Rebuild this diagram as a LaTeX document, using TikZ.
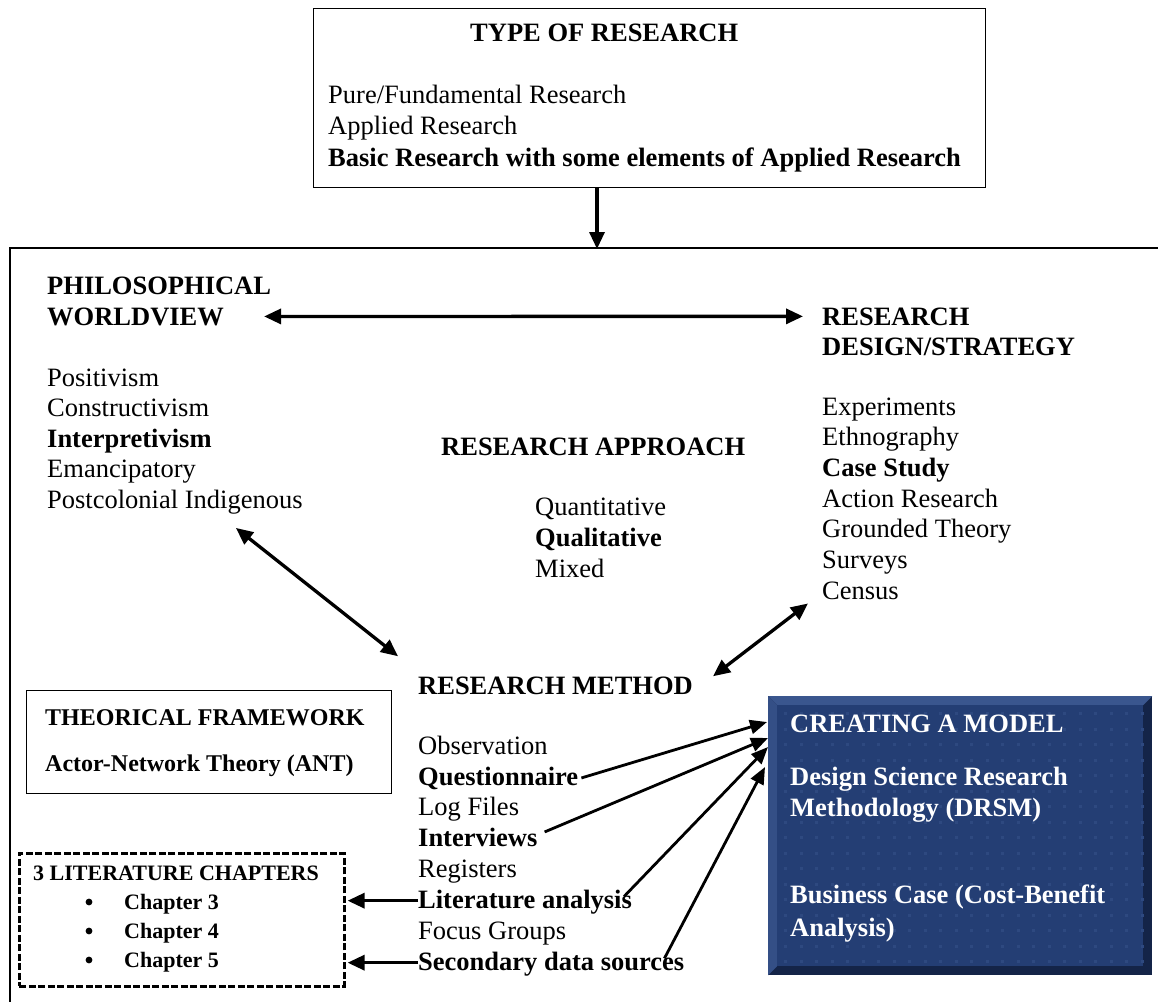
\documentclass[tikz,border=0pt]{standalone}
\usepackage{fontspec}
\setmainfont{Liberation Serif}
\usetikzlibrary{arrows.meta,calc}

\definecolor{modelblue}{RGB}{36,62,116}
\definecolor{modellight}{RGB}{58,86,142}
\definecolor{modeldark}{RGB}{20,36,72}

\begin{document}
\begin{tikzpicture}[x=1pt,y=-1pt,
  txt/.style={anchor=base west, inner sep=0pt, font=\fontsize{26.5}{31}\selectfont},
  bt/.style={anchor=base west, inner sep=0pt, font=\bfseries\fontsize{26.5}{31}\selectfont},
  smallbt/.style={anchor=base west, inner sep=0pt, font=\bfseries\fontsize{24}{28}\selectfont},
  chapbt/.style={anchor=base west, inner sep=0pt, font=\bfseries\fontsize{22}{26}\selectfont},
  wt/.style={bt, text=white},
  arr/.style={line width=3.3pt, -{Triangle[length=17pt,width=15pt]}},
  darr/.style={line width=3.3pt, {Triangle[length=17pt,width=15pt]}-{Triangle[length=17pt,width=15pt]}},
  thinarr/.style={line width=2.8pt, -{Triangle[length=17pt,width=14pt]}},
  plainbox/.style={draw, line width=1.3pt, inner sep=0pt, anchor=north west}
]
\useasboundingbox (0,0) rectangle (1158,1001);
\fill[white] (0,0) rectangle (1158,1001);

% --- type of research box
\node[plainbox, minimum width=672pt, minimum height=179pt] (typebox) at (313,8) {};
\node[bt] (t0) at (470,41) {TYPE OF RESEARCH};
\node[txt] (t1) at (328,103) {Pure/Fundamental Research};
\node[txt] (t2) at (328,134) {Applied Research};
\node[bt]  (t3) at (328,166) {Basic Research with some elements of Applied Research};

% --- outer frame (open to the right and bottom)
\coordinate (ftop) at (597,249);
\draw[line width=1.8pt] (10,1010) -- (10,248) -- (1170,248);
\draw[arr] (typebox.south -| ftop) -- (ftop);

% --- philosophical worldview
\node[bt] (pw1) at (47,294) {PHILOSOPHICAL};
\node[bt] (pw2) at (47,325) {WORLDVIEW};
\node[txt] (pwa) at (47,386) {Positivism};
\node[txt] (pwb) at (47,416) {Constructivism};
\node[bt]  (pwc) at (47,447) {Interpretivism};
\node[txt] (pwd) at (47,477) {Emancipatory};
\node[txt] (pwe) at (47,508) {Postcolonial Indigenous};

% --- research design / strategy
\node[bt] (rd1) at (822,325) {RESEARCH};
\node[bt] (rd2) at (822,355) {DESIGN/STRATEGY};
\node[txt] (rda) at (822,415) {Experiments};
\node[txt] (rdb) at (822,445) {Ethnography};
\node[bt]  (rdc) at (822,476) {Case Study};
\node[txt] (rdd) at (822,507) {Action Research};
\node[txt] (rde) at (822,537) {Grounded Theory};
\node[txt] (rdf) at (822,568) {Surveys};
\node[txt] (rdg) at (822,599) {Census};

% --- research approach
\node[bt] (ra) at (441,455) {RESEARCH APPROACH};
\node[txt] (raa) at (535,515) {Quantitative};
\node[bt]  (rab) at (535,546) {Qualitative};
\node[txt] (rac) at (535,577) {Mixed};

% --- research method
\node[bt] (rm) at (418,694) {RESEARCH METHOD};
\node[txt] (rma) at (418,754) {Observation};
\node[bt]  (rmb) at (418,785) {Questionnaire};
\node[txt] (rmc) at (418,815) {Log Files};
\node[bt]  (rmd) at (418,846) {Interviews};
\node[txt] (rme) at (418,877) {Registers};
\node[bt]  (rmf) at (418,908) {Literature analysis};
\node[txt] (rmg) at (418,939) {Focus Groups};
\node[bt]  (rmh) at (418,970) {Secondary data sources};

% --- theoretical framework box
\node[plainbox, minimum width=365pt, minimum height=103pt] (theory) at (26,690) {};
\node[smallbt] (th1) at (45,725) {THEORICAL FRAMEWORK};
\node[smallbt] (th2) at (45,771) {Actor-Network Theory (ANT)};

% --- literature chapters box
\node[draw, line width=2.6pt, dash pattern=on 7pt off 2.5pt, inner sep=0pt, anchor=north west,
      minimum width=325pt, minimum height=133pt] (chap) at (18,852) {};
\node[chapbt] (ch0) at (33,880) {3 LITERATURE CHAPTERS};
\foreach \y/\n in {909/3,938/4,967/5}{
  \fill (89,\y-7) circle (3.4pt);
  \node[chapbt] (ch\n) at (124,\y) {Chapter \n};
}

% --- creating a model (bevelled blue panel)
\node[inner sep=0pt, anchor=north west, minimum width=384pt, minimum height=279pt] (model) at (768,696) {};
\fill[modeldark] (model.north west) rectangle (model.south east);
\fill[modellight] (model.north west) -- (model.north east) -- ($(model.north east)+(-9,9)$)
      -- ($(model.north west)+(9,9)$) -- cycle;
\fill[modellight!70!modelblue] (model.north west) -- ($(model.north west)+(9,9)$)
      -- ($(model.south west)+(9,-9)$) -- (model.south west) -- cycle;
\fill[modelblue] ($(model.north west)+(9,9)$) rectangle ($(model.south east)+(-9,-9)$);
\foreach \i in {0,...,23}{
  \foreach \j in {0,...,16}{
    \fill[modellight!45!modelblue] (784+\i*15.5, 712+\j*15.5) rectangle ++(3,3);
  }
}
\node[wt] (mo1) at (790,732) {CREATING A MODEL};
\node[wt] (mo2) at (790,785) {Design Science Research};
\node[wt] (mo3) at (790,816) {Methodology (DRSM)};
\node[wt] (mo4) at (790,903) {Business Case (Cost-Benefit};
\node[wt] (mo5) at (790,936) {Analysis)};

% --- connectors between the headings
\draw[darr] ([xshift=40pt]pw2.east) -- ([xshift=-19pt]rd1.west);
\draw[darr] ($(pwe.south)+(61,14)$) -- ($(rm.north west)+(-20,-20)$);
\draw[darr] ($(rdg.south west)+(-14,4)$) -- ($(rm.north east)+(20,0)$);

% --- method lines feeding the model panel
\coordinate (m1) at (767,722);
\coordinate (m2) at (768,738);
\coordinate (m3) at (768,747);
\coordinate (m4) at (765,767);
\draw[thinarr] ([xshift=3pt]rmb.east) -- (m1);
\draw[thinarr] ($(rmd.east)+(7,-5)$) -- (m2);
\draw[thinarr] ($(rmf.north east)+(-8,7)$) -- (m3);
\draw[thinarr] ($(rmh.north east)+(-20,7)$) -- (m4);

% --- method lines feeding the literature chapters
\draw[arr] ($(rmf.west)+(0,-1)$) -- ($(rmf.west -| chap.east)+(2,-1)$);
\draw[arr] ($(rmh.west)+(0,-1)$) -- ($(rmh.west -| chap.east)+(2,-1)$);
\end{tikzpicture}
\end{document}
